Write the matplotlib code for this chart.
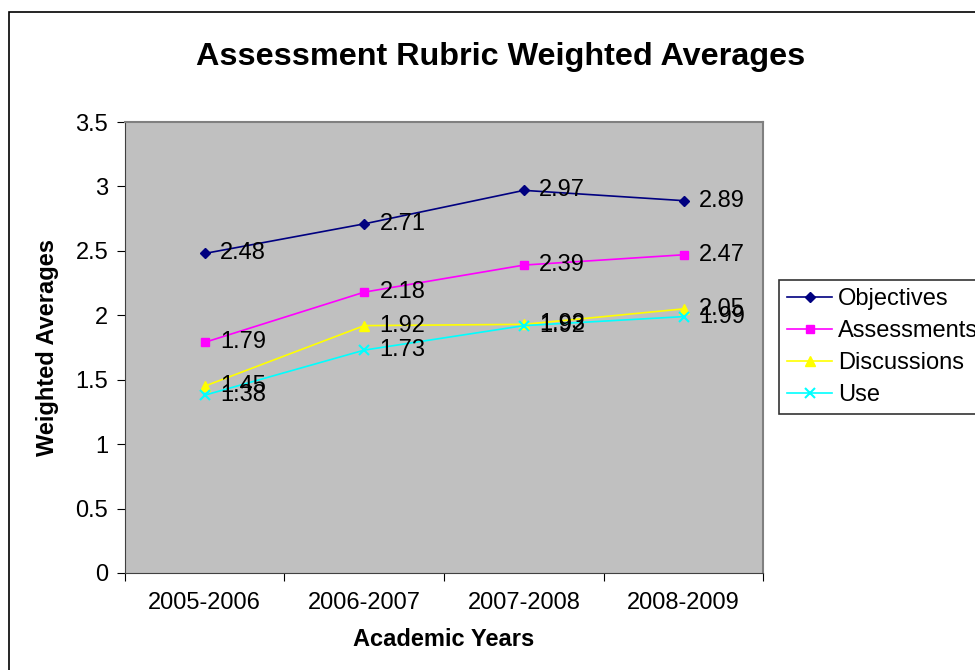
import matplotlib.pyplot as plt
from matplotlib.patches import Rectangle

plt.rcParams['font.family'] = ['Liberation Sans', 'DejaVu Sans']

years = ['2005-2006', '2006-2007', '2007-2008', '2008-2009']
objectives = [2.48, 2.71, 2.97, 2.89]
assessments = [1.79, 2.18, 2.39, 2.47]
discussions = [1.45, 1.92, 1.93, 2.05]
use = [1.38, 1.73, 1.92, 1.99]

series = [
    ('Objectives', objectives, '#000080', 'D', 5.5),
    ('Assessments', assessments, '#FF00FF', 's', 6),
    ('Discussions', discussions, '#FFFF00', '^', 7.5),
    ('Use', use, '#00FFFF', 'x', 7.5),
]

FS = 17

fig = plt.figure(figsize=(9.75, 6.7), dpi=100)
ax = fig.add_axes([0.128, 0.1448, 0.655, 0.673])
ax.set_facecolor('#C0C0C0')

# outer chart border (only left/top visible in the reference)
fig.patches.append(Rectangle((9 / 975, -0.1), 1.2, 1 - 12 / 670 + 0.1,
                             transform=fig.transFigure, fill=False,
                             edgecolor='black', linewidth=1.2))

x = range(len(years))
for name, vals, color, marker, ms in series:
    ax.plot(x, vals, color=color, marker=marker, markersize=ms,
            linewidth=1.2, label=name, markeredgewidth=1.5 if marker == 'x' else 1)
    for xi, v in zip(x, vals):
        ax.annotate(f'{v:.2f}', (xi, v), xytext=(11, 0), textcoords='offset points',
                    va='center', ha='left', fontsize=FS)

ax.set_xlim(-0.5, 3.5)
ax.set_ylim(0, 3.5)
ax.set_yticks([0, 0.5, 1, 1.5, 2, 2.5, 3, 3.5])
ax.set_yticklabels(['0', '0.5', '1', '1.5', '2', '2.5', '3', '3.5'])
ax.set_xticks([-0.5, 0.5, 1.5, 2.5, 3.5])
ax.set_xticklabels([])
ax.set_xticks(list(x), minor=True)
ax.set_xticklabels(years, minor=True)
ax.tick_params(axis='x', which='minor', length=0, pad=14, labelsize=FS)
ax.tick_params(axis='x', which='major', direction='out', length=6)
ax.tick_params(axis='y', direction='out', length=6, labelsize=FS, pad=6)

for side in ['top', 'right']:
    ax.spines[side].set_color('#808080')
    ax.spines[side].set_linewidth(1.5)
for side in ['left', 'bottom']:
    ax.spines[side].set_color('#404040')

ax.set_xlabel('Academic Years', fontsize=FS, fontweight='bold', labelpad=10)
ax.set_ylabel('Weighted Averages', fontsize=FS, fontweight='bold', labelpad=12)
fig.suptitle('Assessment Rubric Weighted Averages', x=0.513, y=0.937,
             fontsize=23.3, fontweight='bold')

leg = ax.legend(loc='upper left', bbox_to_anchor=(779 / 975, 1 - 280 / 670),
                bbox_transform=fig.transFigure, fontsize=FS, frameon=True,
                fancybox=False, edgecolor='black', borderaxespad=0,
                handlelength=1.9, labelspacing=0.42, borderpad=0.35,
                handletextpad=0.25)
leg.get_frame().set_linewidth(1.2)

fig.savefig('out.png', dpi=100)
